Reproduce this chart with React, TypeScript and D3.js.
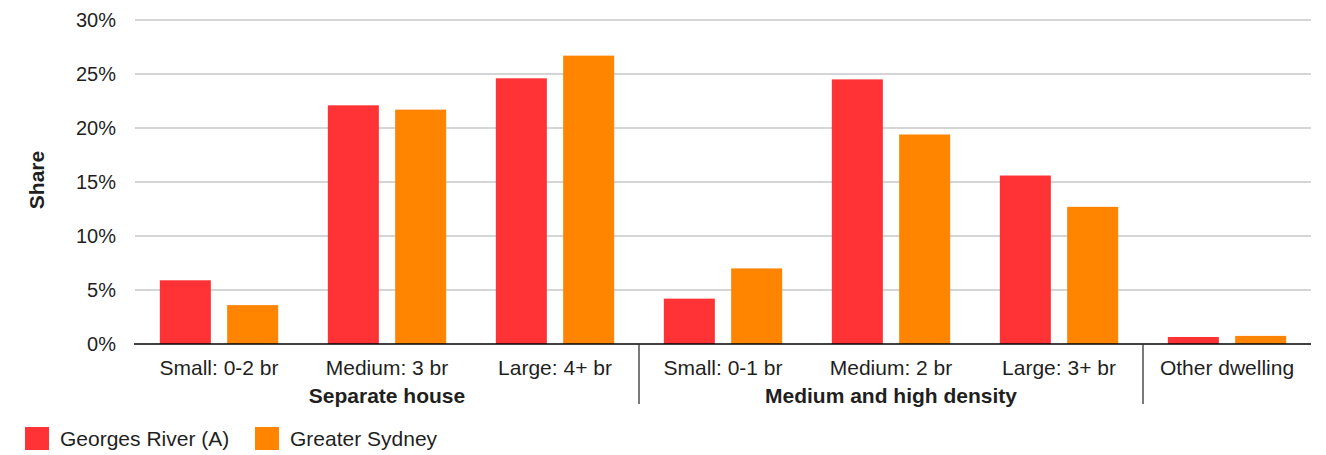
import React from "react";
import * as d3 from "d3";

// Dwelling types and the broad group each belongs to
const categories = [
  "Small: 0-2 br",
  "Medium: 3 br",
  "Large: 4+ br",
  "Small: 0-1 br",
  "Medium: 2 br",
  "Large: 3+ br",
  "Other dwelling",
];
const groups = [
  { name: "Separate house", from: 0, to: 3 },
  { name: "Medium and high density", from: 3, to: 6 },
  { name: "", from: 6, to: 7 },
];

const seriesNames = ["Georges River (A)", "Greater Sydney"];
const georgesRiver = [5.9, 22.1, 24.6, 4.2, 24.5, 15.6, 0.65];
const greaterSydney = [3.6, 21.7, 26.7, 7.0, 19.4, 12.7, 0.75];
const seriesValues = [georgesRiver, greaterSydney];
const seriesColors = ["#ff3336", "#ff8400"];

const yTicks = [0, 5, 10, 15, 20, 25, 30];

const W = 1326;
const H = 455;
const plotLeft = 135;
const plotRight = 1311;
const plotTop = 20;
const plotBottom = 344;
const FONT = "Arial, 'Liberation Sans', sans-serif";
const TEXT = "#1f1f1f";
const FS = 21;

export default function App() {
  const x0 = d3
    .scaleBand<number>()
    .domain(d3.range(categories.length))
    .range([plotLeft, plotRight])
    .paddingInner(0)
    .paddingOuter(0);

  const x1 = d3
    .scaleBand<number>()
    .domain(d3.range(seriesNames.length))
    .range([0, x0.bandwidth()])
    .paddingInner(0.242)
    .paddingOuter(0.369);

  const y = d3.scaleLinear().domain([0, 30]).range([plotBottom, plotTop]);

  return (
    <svg
      width={W}
      height={H}
      style={{ position: "absolute", left: 0, top: 0, background: "#fff" }}
      fontFamily={FONT}
    >
      {/* horizontal gridlines and y tick labels */}
      {yTicks.map((t) => (
        <g key={t}>
          {t !== 0 && (
            <line
              x1={plotLeft}
              x2={plotRight}
              y1={y(t)}
              y2={y(t)}
              stroke="#a8abb0"
              strokeWidth={1.2}
            />
          )}
          <text
            x={116}
            y={y(t)}
            dy="0.36em"
            textAnchor="end"
            fontSize={20}
            fill={TEXT}
          >
            {t}%
          </text>
        </g>
      ))}

      {/* y axis title */}
      <text
        transform={`translate(44,${(plotTop + plotBottom) / 2 - 2}) rotate(-90)`}
        textAnchor="middle"
        fontSize={FS}
        fontWeight="bold"
        fill={TEXT}
      >
        Share
      </text>

      {/* bars */}
      {categories.map((c, i) => (
        <g key={c} transform={`translate(${x0(i)},0)`}>
          {seriesValues.map((vals, s) => (
            <rect
              key={s}
              x={x1(s)}
              y={y(vals[i])}
              width={x1.bandwidth()}
              height={y(0) - y(vals[i])}
              fill={seriesColors[s]}
            />
          ))}
        </g>
      ))}

      {/* baseline */}
      <line
        x1={plotLeft - 1}
        x2={plotRight}
        y1={plotBottom}
        y2={plotBottom}
        stroke="#000"
        strokeWidth={1.5}
      />

      {/* category labels */}
      {categories.map((c, i) => (
        <text
          key={c}
          x={(x0(i) as number) + x0.bandwidth() / 2}
          y={375}
          textAnchor="middle"
          fontSize={FS}
          fill={TEXT}
        >
          {c}
        </text>
      ))}

      {/* group labels and separators */}
      {groups.map((g, gi) => {
        const start = x0(g.from) as number;
        const end = g.to < categories.length ? (x0(g.to) as number) : plotRight;
        return (
          <g key={gi}>
            {g.name && (
              <text
                x={(start + end) / 2}
                y={403}
                textAnchor="middle"
                fontSize={FS}
                fontWeight="bold"
                fill={TEXT}
              >
                {g.name}
              </text>
            )}
            {gi > 0 && (
              <line
                x1={start}
                x2={start}
                y1={plotBottom}
                y2={404}
                stroke="#333"
                strokeWidth={1.3}
              />
            )}
          </g>
        );
      })}

      {/* legend */}
      {seriesNames.map((n, s) => {
        const lx = s === 0 ? 25 : 255;
        return (
          <g key={n}>
            <rect x={lx} y={427} width={24} height={23} fill={seriesColors[s]} />
            <text x={lx + 35} y={446} fontSize={FS} fill={TEXT}>
              {n}
            </text>
          </g>
        );
      })}
    </svg>
  );
}
